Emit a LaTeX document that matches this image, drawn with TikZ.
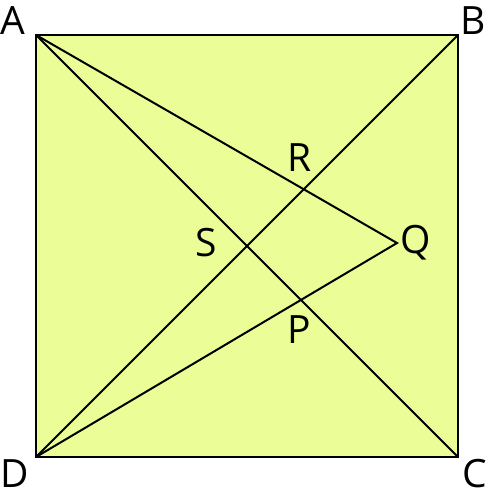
\documentclass[tikz,border=0pt]{standalone}
\usepackage{fontspec}
\setmainfont{Open Sans}
\usepackage{tikz}
\usetikzlibrary{calc}
\definecolor{squarefill}{RGB}{234,253,150}

\begin{document}
\begin{tikzpicture}[ x=1pt, y=-1pt, edge/.style={line width=2pt, black},
      vertexlabel/.style={font=\fontsize{39pt}{42pt}\selectfont, text=black} ]
    \useasboundingbox (0,0) rectangle (488,501);

    % Corners of the square and inner point
    \coordinate (A) at (36,35); \coordinate (B) at (458,35); \coordinate (C)
    at (458,457); \coordinate (D) at (36,457); \coordinate (Q) at (397,243);

    % Square
    \draw[edge, fill=squarefill] (A) -- (B) -- (C) -- (D) -- cycle;

    % Diagonals
    \draw[edge] (A) -- (C); \draw[edge] (B) -- (D);

    % Lines to Q
    \draw[edge] (A) -- (Q) -- (D);

    % Labels
    \node[vertexlabel] (lA) at (13,21) {A}; \node[vertexlabel] (lB) at
    (473,21) {B}; \node[vertexlabel] (lC) at (475,474) {C};
    \node[vertexlabel] (lD) at (15,474) {D}; \node[vertexlabel] (lR) at
    (300,158) {R}; \node[vertexlabel] (lS) at (206,243) {S};
    \node[vertexlabel] (lQ) at (416,243) {Q}; \node[vertexlabel] (lP) at
    (299,330) {P};

    \end{tikzpicture}
\end{document}
